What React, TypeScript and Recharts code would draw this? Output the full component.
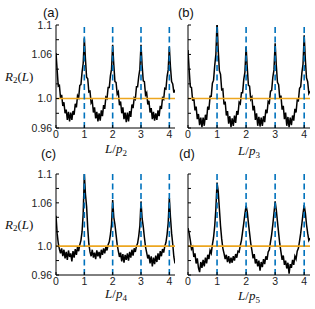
import React from 'react';
import { LineChart, Line, XAxis, YAxis, ReferenceLine, ReferenceArea } from 'recharts';

const lValues = [
  0, 0.04, 0.08, 0.12, 0.16, 0.2, 0.24, 0.28, 0.32, 0.36, 0.4, 0.44, 0.48, 0.52, 0.56, 0.6, 0.64, 0.68, 0.72, 0.76, 0.8, 0.84, 0.88, 0.92, 0.96,
  1, 1.04, 1.08, 1.12, 1.16, 1.2, 1.24, 1.28, 1.32, 1.36, 1.4, 1.44, 1.48, 1.52, 1.56, 1.6, 1.64, 1.68, 1.72, 1.76, 1.8, 1.84, 1.88, 1.92, 1.96,
  2, 2.04, 2.08, 2.12, 2.16, 2.2, 2.24, 2.28, 2.32, 2.36, 2.4, 2.44, 2.48, 2.52, 2.56, 2.6, 2.64, 2.68, 2.72, 2.76, 2.8, 2.84, 2.88, 2.92, 2.96,
  3, 3.04, 3.08, 3.12, 3.16, 3.2, 3.24, 3.28, 3.32, 3.36, 3.4, 3.44, 3.48, 3.52, 3.56, 3.6, 3.64, 3.68, 3.72, 3.76, 3.8, 3.84, 3.88, 3.92, 3.96,
  4, 4.04, 4.08, 4.12, 4.16, 4.2,
];

const seriesA = [
  1.062, 1.039, 1.017, 1.018, 1.001, 1.005, 0.990, 0.995, 0.980, 0.985, 0.971, 0.982, 0.969, 0.981, 0.971, 0.983, 0.978, 0.993, 0.988, 1.004, 1.001, 1.018, 1.019, 1.036, 1.048,
  1.082, 1.053, 1.029, 1.027, 1.009, 1.010, 0.994, 0.997, 0.981, 0.988, 0.973, 0.982, 0.969, 0.980, 0.970, 0.984, 0.976, 0.991, 0.986, 1.002, 1.000, 1.015, 1.015, 1.031, 1.040,
  1.073, 1.046, 1.023, 1.022, 1.006, 1.009, 0.991, 0.996, 0.980, 0.988, 0.972, 0.981, 0.968, 0.981, 0.969, 0.983, 0.975, 0.992, 0.987, 1.001, 0.999, 1.016, 1.016, 1.030, 1.040,
  1.073, 1.045, 1.024, 1.023, 1.005, 1.008, 0.992, 0.997, 0.981, 0.987, 0.972, 0.982, 0.970, 0.980, 0.971, 0.984, 0.976, 0.990, 0.986, 1.001, 0.999, 1.014, 1.013, 1.030, 1.039,
  1.070, 1.043, 1.023, 1.020, 1.008, 1.012,
];

const seriesB = [
  1.066, 1.039, 1.016, 1.015, 0.997, 1.001, 0.984, 0.989, 0.972, 0.979, 0.964, 0.974, 0.961, 0.974, 0.963, 0.978, 0.971, 0.989, 0.985, 1.003, 1.003, 1.021, 1.025, 1.045, 1.060,
  1.105, 1.066, 1.038, 1.033, 1.012, 1.013, 0.992, 0.996, 0.977, 0.983, 0.966, 0.976, 0.961, 0.973, 0.963, 0.977, 0.967, 0.983, 0.978, 0.995, 0.993, 1.008, 1.008, 1.026, 1.036,
  1.070, 1.042, 1.018, 1.017, 0.999, 1.002, 0.984, 0.990, 0.971, 0.980, 0.963, 0.975, 0.962, 0.974, 0.963, 0.976, 0.968, 0.985, 0.980, 0.996, 0.994, 1.010, 1.011, 1.029, 1.039,
  1.075, 1.045, 1.022, 1.019, 1.000, 1.004, 0.985, 0.990, 0.972, 0.981, 0.963, 0.975, 0.961, 0.974, 0.964, 0.977, 0.970, 0.986, 0.981, 0.998, 0.997, 1.014, 1.016, 1.035, 1.047,
  1.086, 1.053, 1.028, 1.023, 1.007, 1.010,
];

const seriesC = [
  1.042, 1.018, 1.004, 0.996, 0.990, 0.997, 0.986, 0.995, 0.983, 0.992, 0.981, 0.994, 0.985, 0.990, 0.979, 0.993, 0.984, 0.996, 0.988, 0.999, 0.993, 1.002, 1.008, 1.020, 1.045,
  1.100, 1.072, 1.055, 1.025, 1.003, 0.992, 0.986, 0.995, 0.984, 0.991, 0.982, 0.994, 0.986, 0.992, 0.983, 0.995, 0.988, 0.997, 0.990, 0.999, 0.994, 1.002, 1.006, 1.016, 1.030,
  1.064, 1.040, 1.030, 1.016, 1.002, 0.993, 0.985, 0.991, 0.979, 0.989, 0.977, 0.988, 0.981, 0.990, 0.980, 0.992, 0.984, 0.995, 0.987, 0.997, 0.992, 1.000, 1.004, 1.014, 1.028,
  1.062, 1.038, 1.027, 1.012, 0.999, 0.991, 0.983, 0.988, 0.976, 0.986, 0.972, 0.984, 0.975, 0.987, 0.978, 0.990, 0.981, 0.993, 0.986, 0.996, 0.991, 1.000, 1.005, 1.016, 1.032,
  1.067, 1.040, 1.018, 1.003, 0.985, 0.976,
];

const seriesD = [
  1.025, 1.018, 1.008, 0.996, 0.999, 0.985, 0.990, 0.976, 0.983, 0.970, 0.964, 0.978, 0.970, 0.981, 0.972, 0.984, 0.976, 0.988, 0.982, 0.994, 0.990, 1.002, 1.012, 1.028, 1.052,
  1.088, 1.076, 1.052, 1.028, 1.010, 0.997, 0.990, 0.982, 0.988, 0.978, 0.986, 0.976, 0.984, 0.977, 0.986, 0.980, 0.989, 0.984, 0.993, 0.992, 1.001, 1.008, 1.020, 1.032, 1.045,
  1.056, 1.048, 1.032, 1.018, 1.004, 0.994, 0.983, 0.989, 0.976, 0.982, 0.972, 0.980, 0.966, 0.978, 0.971, 0.982, 0.975, 0.986, 0.981, 0.992, 0.995, 1.006, 1.016, 1.030, 1.046,
  1.062, 1.050, 1.034, 1.018, 1.003, 0.992, 0.981, 0.987, 0.974, 0.980, 0.969, 0.977, 0.962, 0.975, 0.970, 0.981, 0.974, 0.986, 0.982, 0.993, 0.997, 1.007, 1.018, 1.031, 1.045,
  1.057, 1.046, 1.030, 1.018, 1.008, 1.011,
];

const xTicks = [0, 1, 2, 3, 4];
const yTicks = [0.96, 0.98, 1.0, 1.02, 1.04, 1.06, 1.08, 1.1];
const yTickLabels: Record<string, string> = { '0.96': '0.96', '1': '1.0', '1.06': '1.06', '1.1': '1.1' };
const periodMarks = [1, 2, 3, 4];
const panelLetters = ['(a)', '(b)', '(c)', '(d)'];
const subscripts = ['2', '3', '4', '5'];

const build = (vals: number[]) => lValues.map((l, i) => ({ L: l, R: vals[i] }));

const tickFont = { fontFamily: 'Liberation Sans, Arial, sans-serif', fontSize: 10.5, fill: '#222' };

type PanelProps = {
  data: { L: number; R: number }[];
  left: number;
  top: number;
  width: number;
  height: number;
  yAxisWidth: number;
  marginTop: number;
  xAxisHeight: number;
  showYLabels: boolean;
};

const Panel = ({ data, left, top, width, height, yAxisWidth, marginTop, xAxisHeight, showYLabels }: PanelProps) => (
  <div style={{ position: 'absolute', left, top }}>
    <LineChart width={width} height={height} data={data} margin={{ top: marginTop, right: 5, bottom: 0, left: 0 }}>
      <XAxis
        dataKey="L"
        type="number"
        domain={[0, 4.2]}
        ticks={xTicks}
        allowDataOverflow
        height={xAxisHeight}
        tickSize={-3}
        tickMargin={6}
        tick={tickFont}
        stroke="#000"
        interval={0}
      />
      <YAxis
        type="number"
        domain={[0.96, 1.1]}
        ticks={yTicks}
        allowDataOverflow
        width={yAxisWidth}
        tickSize={-3}
        tickMargin={7}
        interval={0}
        tick={tickFont}
        stroke="#000"
        tickFormatter={(v: number) => (showYLabels ? yTickLabels[String(Math.round(v * 100) / 100)] ?? '' : '')}
      />
      <XAxis xAxisId="top" orientation="top" type="number" domain={[0, 4.2]} ticks={xTicks} mirror tick={false} tickSize={3} height={0} stroke="#000" />
      <YAxis yAxisId="right" orientation="right" type="number" domain={[0.96, 1.1]} ticks={yTicks} mirror tick={false} tickSize={3} width={0} stroke="#000" />
      <Line type="linear" dataKey="R" stroke="#000" strokeWidth={1.5} strokeLinejoin="miter" dot={false} isAnimationActive={false} />
      <ReferenceLine y={1} stroke="#EDA61F" strokeWidth={1.6} />
      {periodMarks.map((m) => (
        <ReferenceLine key={m} x={m} stroke="#0072BD" strokeWidth={1.6} strokeDasharray="6 3.5" />
      ))}
      <ReferenceArea fill="none" stroke="#000" strokeWidth={1} fillOpacity={0} />
    </LineChart>
  </div>
);

const serif = '"Liberation Serif", "Times New Roman", serif';

const YTitle = ({ top }: { top: number }) => (
  <div style={{ position: 'absolute', left: 5, top, fontFamily: serif, fontSize: 13, color: '#111', whiteSpace: 'nowrap', lineHeight: '14px' }}>
    <i>R</i>
    <span style={{ fontSize: 9, verticalAlign: -2 }}>2</span>(<i>L</i>)
  </div>
);

const XTitle = ({ cx, top, sub }: { cx: number; top: number; sub: string }) => (
  <div style={{ position: 'absolute', left: cx - 30, width: 60, top, textAlign: 'center', fontFamily: serif, fontSize: 13, color: '#111', whiteSpace: 'nowrap', lineHeight: '14px' }}>
    <i>L</i>/<i>p</i>
    <span style={{ fontSize: 9, verticalAlign: -3 }}>{sub}</span>
  </div>
);

const Letter = ({ left, top, text }: { left: number; top: number; text: string }) => (
  <div style={{ position: 'absolute', left, top, fontFamily: 'Liberation Sans, Arial, sans-serif', fontSize: 13, color: '#111', lineHeight: '14px' }}>{text}</div>
);

export default function App() {
  return (
    <div style={{ position: 'absolute', left: 0, top: 0, width: 315, height: 309, background: '#fff', overflow: 'hidden' }}>
      <Panel data={build(seriesA)} left={0} top={0} width={180} height={150} yAxisWidth={56} marginTop={25} xAxisHeight={22} showYLabels />
      <Panel data={build(seriesB)} left={180} top={0} width={135} height={150} yAxisWidth={8} marginTop={25} xAxisHeight={22} showYLabels={false} />
      <Panel data={build(seriesC)} left={0} top={150} width={180} height={150} yAxisWidth={56} marginTop={24} xAxisHeight={25} showYLabels />
      <Panel data={build(seriesD)} left={180} top={150} width={135} height={150} yAxisWidth={8} marginTop={24} xAxisHeight={25} showYLabels={false} />
      <YTitle top={70} />
      <YTitle top={218} />
      <XTitle cx={116} top={142} sub={subscripts[0]} />
      <XTitle cx={249} top={144} sub={subscripts[1]} />
      <XTitle cx={116} top={287} sub={subscripts[2]} />
      <XTitle cx={249} top={289} sub={subscripts[3]} />
      <Letter left={43} top={6} text={panelLetters[0]} />
      <Letter left={178} top={6} text={panelLetters[1]} />
      <Letter left={41} top={147} text={panelLetters[2]} />
      <Letter left={179} top={147} text={panelLetters[3]} />
    </div>
  );
}
